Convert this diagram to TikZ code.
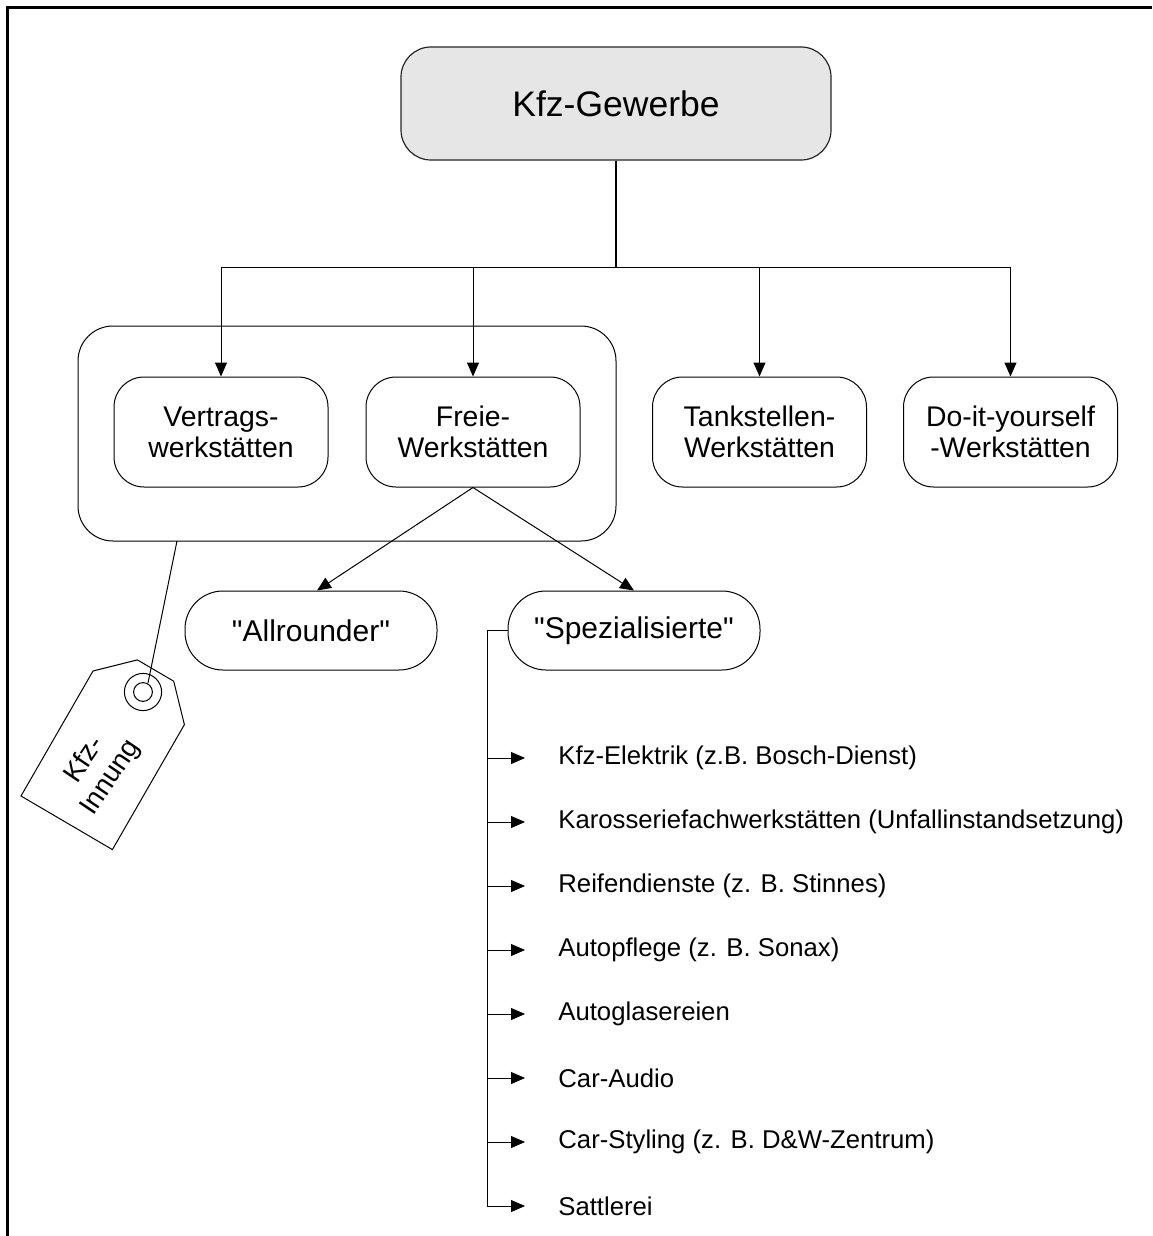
\documentclass[tikz,border=0pt]{standalone}
\usepackage{fontspec}
\setmainfont{Liberation Sans}[Ligatures=TeXOff]
\usetikzlibrary{arrows.meta,calc}
\definecolor{topfill}{HTML}{E6E6E6}
\begin{document}
\begin{tikzpicture}[x=0.5pt,y=-0.5pt,
  ln/.style={line width=0.5pt},
  arr/.style={ln,-{Triangle[length=7pt,width=6pt]}},
  topbox/.style={draw=black!85, line width=0.6pt, fill=topfill, rounded corners=15pt,
    minimum width=215pt, minimum height=56.5pt, inner sep=0pt,
    font=\fontsize{17.75}{21}\selectfont},
  grpbox/.style={draw, line width=0.5pt, rounded corners=17.5pt,
    minimum width=269pt, minimum height=107.5pt, inner sep=0pt},
  wbox/.style={draw, line width=0.5pt, rounded corners=15pt, align=center,
    minimum width=107pt, minimum height=55pt, inner sep=0pt,
    font=\fontsize{14.2}{15.5}\selectfont},
  pill/.style={draw, line width=0.5pt, rounded corners=19pt,
    minimum width=126pt, minimum height=39.5pt, inner sep=0pt,
    font=\fontsize{15}{18}\selectfont},
  item/.style={anchor=west, inner sep=0pt, font=\fontsize{12.85}{15}\selectfont},
  tagtext/.style={align=center, inner sep=0pt, rotate=56,
    font=\fontsize{13.75}{15.8}\selectfont}
]
\useasboundingbox (0,0) rectangle (1152,1236);
% frame
\draw[line width=1.3pt] (1152,7.5) -- (7.5,7.5) -- (7.5,1236);

% nodes
\node[topbox] (kfz) at (616,103.5) {Kfz-Gewerbe};
\node[grpbox] (grp) at (347,433.5) {};
\node[wbox] (vert) at (221,432) {Vertrags-\\werkstätten};
\node[wbox] (freie) at (473,432) {Freie-\\Werkstätten};
\node[wbox] (tank) at (759.5,432) {Tankstellen-\\Werkstätten};
\node[wbox] (diy) at (1010.5,432) {Do-it-yourself\\-Werkstätten};
\node[pill] (allr) at (311,630.5) {"Allrounder"};
\node[pill] (spez) at (634,630.5) {"Spezialisierte"};

\node[item] (i1) at (558,758) {Kfz-Elektrik (z.B. Bosch-Dienst)};
\node[item] (i2) at (558,822) {Karosseriefachwerkstätten (Unfallinstandsetzung)};
\node[item] (i3) at (558,886) {Reifendienste (z. B. Stinnes)};
\node[item] (i4) at (558,950) {Autopflege (z. B. Sonax)};
\node[item] (i5) at (558,1014) {Autoglasereien};
\node[item] (i6) at (558,1078) {Car-Audio};
\node[item] (i7) at (558,1142) {Car-Styling (z. B. D\&W-Zentrum)};
\node[item] (i8) at (558,1206) {Sattlerei};

% top connectors
\coordinate (hub) at (616,267);
\draw[line width=0.8pt] (kfz.south) -- (hub);
\draw[ln] (vert.north |- hub) -- (diy.north |- hub);
\foreach \n in {vert,freie,tank,diy}
  \draw[arr] (\n.north |- hub) -- (\n.north);

% Freie to sub types
\draw[arr] (freie.south) -- ($(allr.north)+(6,0)$);
\draw[arr] (freie.south) -- (spez.north);

% tree of specialised
\coordinate (trunk) at (487,630.5);
\draw[ln] (spez.west) -- (trunk) -- (trunk |- i8.west);
\foreach \n in {i1,i2,i3,i4,i5,i6,i7,i8}
  \draw[arr] (trunk |- \n.west) -- ($(\n.west)+(-33,0)$);

% tag
\coordinate (hole) at (143,692);
\coordinate (strtop) at (177,541);
\draw[ln] (93,671) -- (137.4,659.9) -- (173.7,681.2) -- (184.4,724.6)
  -- (112.4,849.6) -- (21,796) -- cycle;
\draw[ln] (hole) circle[radius=9.3pt];
\draw[ln] (hole) circle[radius=4.7pt];
\draw[ln] (strtop) -- ($(hole)+(5,-9)$);
\node[tagtext] (tag) at (98,769) {Kfz-\\Innung};
\end{tikzpicture}
\end{document}
